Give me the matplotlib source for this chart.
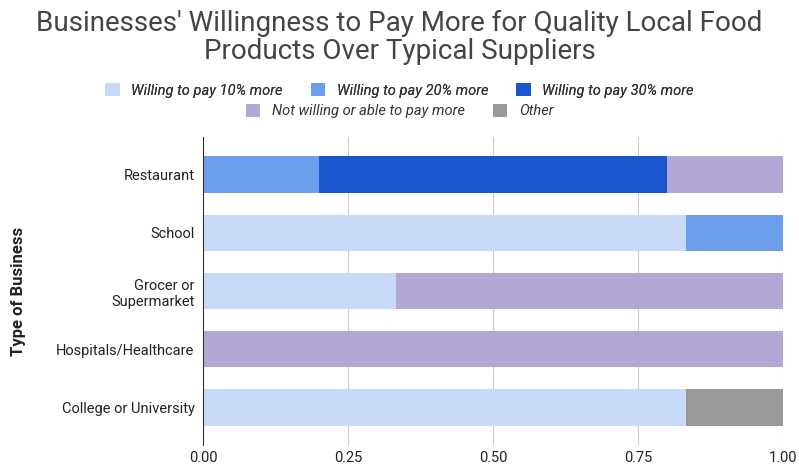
import matplotlib.pyplot as plt

# Data (shares of each business type)
categories = ["Restaurant", "School", "Grocer or\nSupermarket",
              "Hospitals/Healthcare", "College or University"]
series_names = ["Willing to pay 10% more", "Willing to pay 20% more",
                "Willing to pay 30% more", "Not willing or able to pay more",
                "Other"]
pay_10 = [0.0, 0.833, 0.333, 0.0, 0.833]
pay_20 = [0.2, 0.167, 0.0, 0.0, 0.0]
pay_30 = [0.6, 0.0, 0.0, 0.0, 0.0]
not_willing = [0.2, 0.0, 0.667, 1.0, 0.0]
other = [0.0, 0.0, 0.0, 0.0, 0.167]
colors = ["#c9daf8", "#6d9eeb", "#1a56cf", "#b4a7d6", "#999999"]

plt.rcParams['font.family'] = ['Roboto', 'DejaVu Sans']

fig = plt.figure(figsize=(7.99, 4.70), dpi=100)
ax = fig.add_axes([0.254, 0.0532, 0.726, 0.6553])

ypos = list(range(len(categories)))
left = [0.0] * len(categories)
handles = []
for name, vals, col in zip(series_names, [pay_10, pay_20, pay_30, not_willing, other], colors):
    b = ax.barh(ypos, vals, left=left, height=0.63, color=col, label=name, zorder=2)
    handles.append(b)
    left = [l + v for l, v in zip(left, vals)]

ax.set_ylim(4.65, -0.65)
ax.set_xlim(0, 1.0)
ax.set_yticks(ypos)
ax.set_yticklabels(categories, fontsize=10.5, color="#222222")
ax.set_xticks([0, 0.25, 0.5, 0.75, 1.0])
ax.set_xticklabels(["0.00", "0.25", "0.50", "0.75", "1.00"], fontsize=10.5, color="#222222")
ax.tick_params(length=0, pad=6)
ax.tick_params(axis='x', pad=4)
ax.grid(axis='x', color="#cccccc", linewidth=0.8, zorder=0)
for s in ["top", "right", "bottom"]:
    ax.spines[s].set_visible(False)
ax.spines["left"].set_color("#333333")
ax.spines["left"].set_zorder(3)
ax.set_ylabel("Type of Business", fontsize=12, fontweight="bold", color="#222222")
ax.yaxis.set_label_coords(-0.305, 0.5)

fig.text(0.5, 0.978, "Businesses' Willingness to Pay More for Quality Local Food\nProducts Over Typical Suppliers",
         ha="center", va="top", fontsize=20, color="#444444", linespacing=1.05)

leg_kw = dict(frameon=False, prop={"style": "italic", "size": 10.5},
              handlelength=1.0, handleheight=1.0, handletextpad=0.8, columnspacing=1.9,
              labelcolor="#333333")
leg1 = fig.legend(handles[:3], series_names[:3], loc="center", bbox_to_anchor=(0.5, 0.808),
                  ncol=3, **leg_kw)
fig.add_artist(leg1)
fig.legend(handles[3:], series_names[3:], loc="center", bbox_to_anchor=(0.5, 0.764),
           ncol=2, **leg_kw)

fig.savefig("out.png", dpi=100)
